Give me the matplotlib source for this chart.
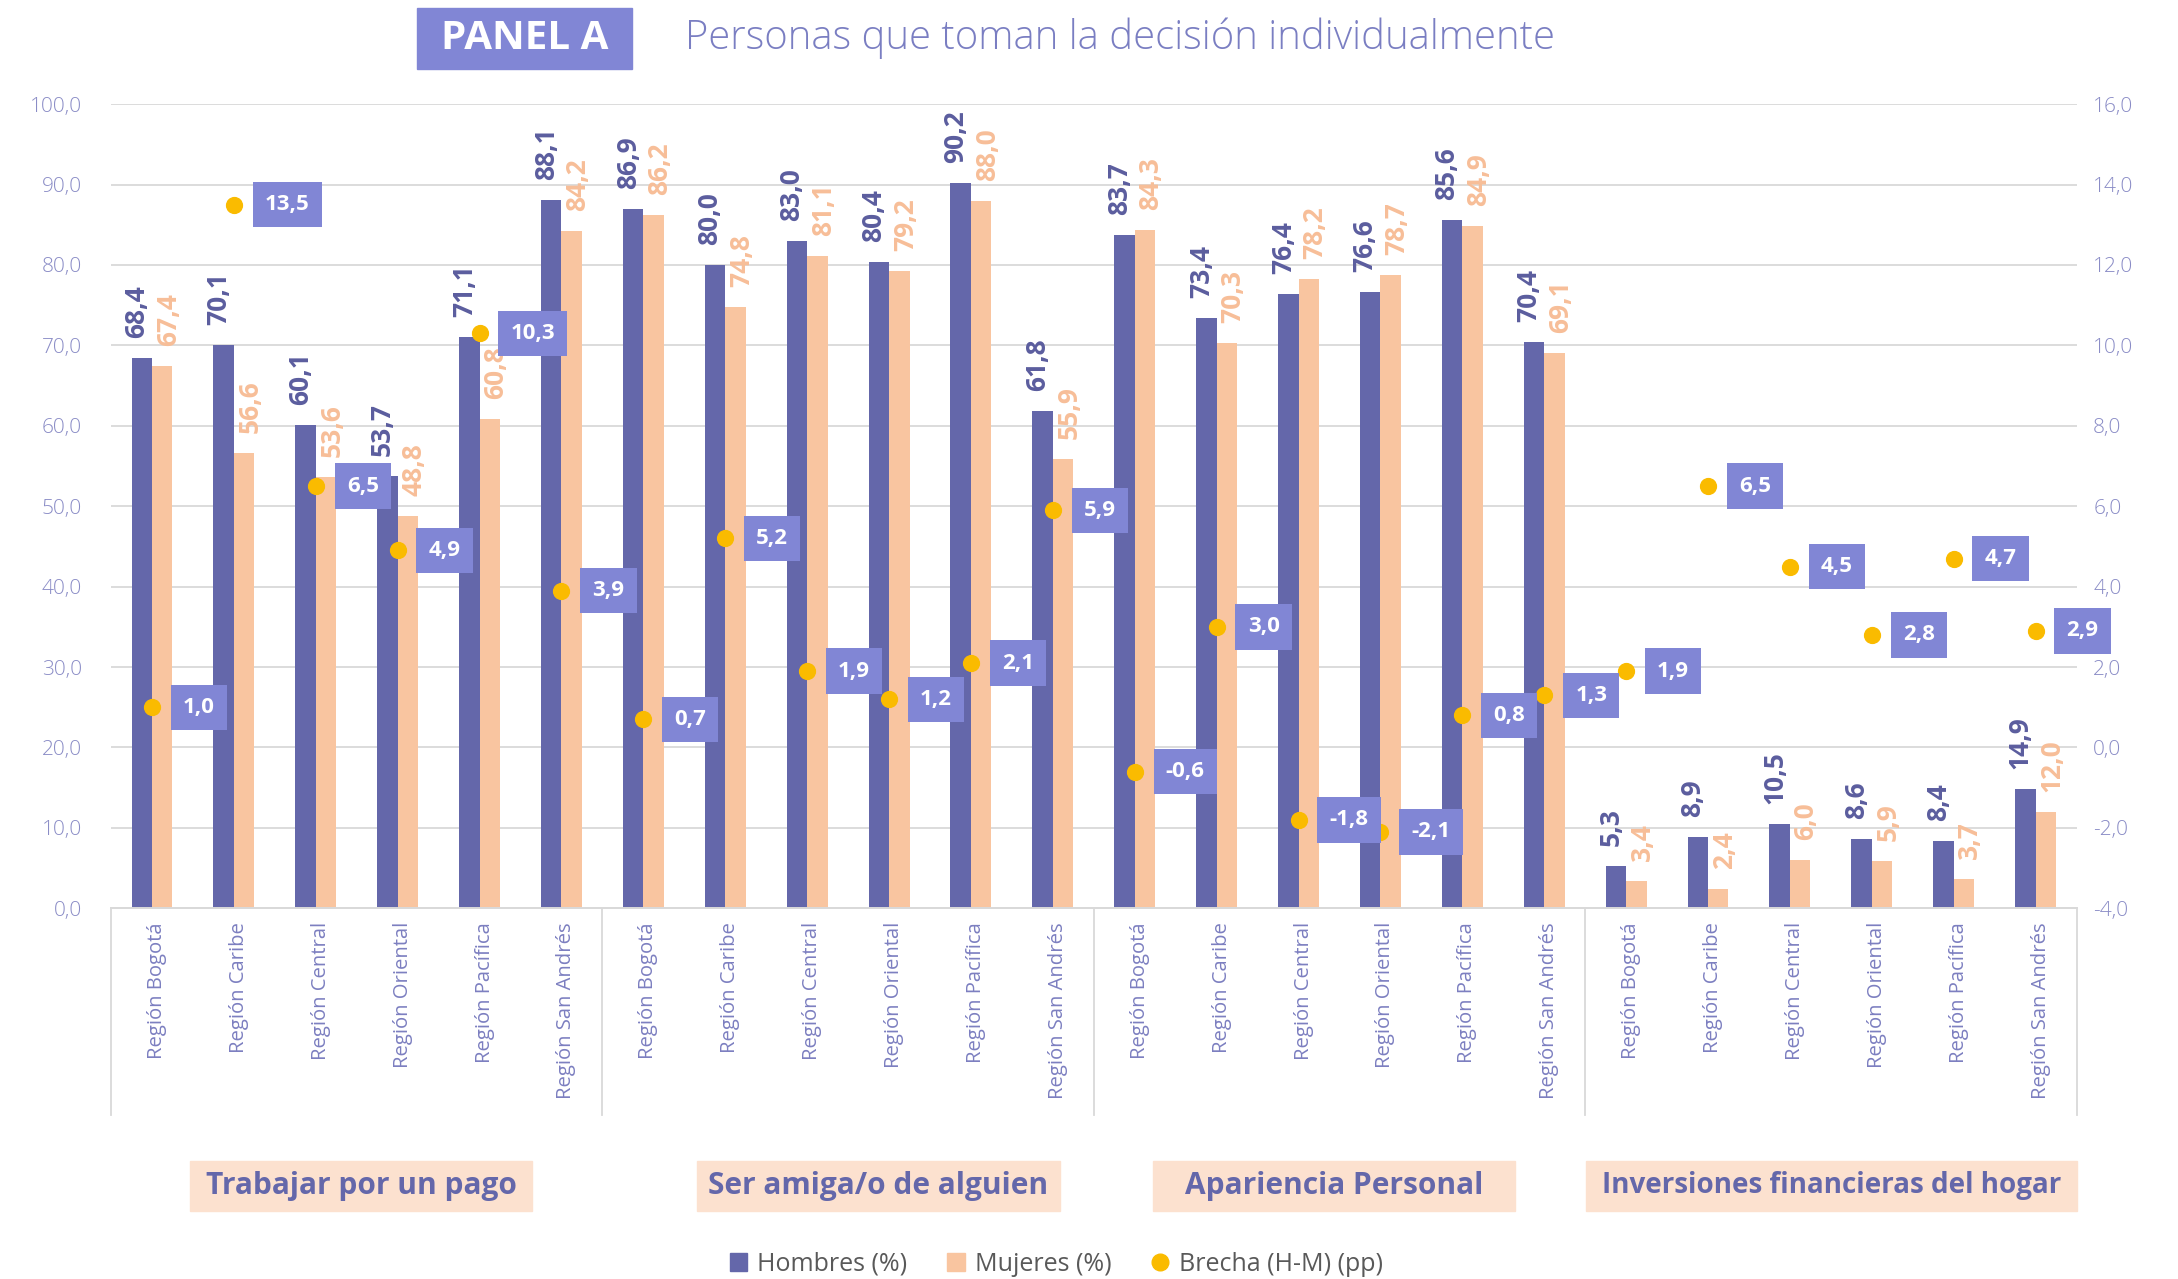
import matplotlib
matplotlib.use('Agg')
import matplotlib.pyplot as plt
from matplotlib.path import Path
from matplotlib.patches import Rectangle, Patch
from matplotlib.lines import Line2D
from matplotlib.ticker import FuncFormatter, MultipleLocator
import matplotlib.transforms as mtransforms

# ---------------- data ----------------
regions = ["Región Bogotá", "Región Caribe", "Región Central",
           "Región Oriental", "Región Pacífica", "Región San Andrés"]
groups = ["Trabajar por un pago", "Ser amiga/o de alguien",
          "Apariencia Personal", "Inversiones financieras del hogar"]
hombres = [68.4, 70.1, 60.1, 53.7, 71.1, 88.1,
           86.9, 80.0, 83.0, 80.4, 90.2, 61.8,
           83.7, 73.4, 76.4, 76.6, 85.6, 70.4,
           5.3, 8.9, 10.5, 8.6, 8.4, 14.9]
mujeres = [67.4, 56.6, 53.6, 48.8, 60.8, 84.2,
           86.2, 74.8, 81.1, 79.2, 88.0, 55.9,
           84.3, 70.3, 78.2, 78.7, 84.9, 69.1,
           3.4, 2.4, 6.0, 5.9, 3.7, 12.0]
brecha = [1.0, 13.5, 6.5, 4.9, 10.3, 3.9,
          0.7, 5.2, 1.9, 1.2, 2.1, 5.9,
          -0.6, 3.0, -1.8, -2.1, 0.8, 1.3,
          1.9, 6.5, 4.5, 2.8, 4.7, 2.9]
categories = regions * len(groups)
series_names = ["Hombres (%)", "Mujeres (%)", "Brecha (H-M) (pp)"]
title_tag = "PANEL A"
title_text = "Personas que toman la decisión individualmente"

# ---------------- style ----------------
C_H = '#6467AA'
C_M = '#F9C5A0'
C_B = '#FABB00'
C_BOX = '#8186D5'
C_TICK = '#8A8CC6'
C_CAT = '#7C7FC0'
C_HLAB = '#5B5D9E'
C_MLAB = '#F7BE98'
C_GRID = '#D9D9D9'
C_GBOX = '#FCE1CF'

def fmt(v):
    return f"{v:.1f}".replace('.', ',')

def rect_box(x0, y0, width, height, mutation_size):
    px = 0.55 * mutation_size
    py = 0.55 * mutation_size
    x1, y1 = x0 + width, y0 + height
    verts = [(x0 - px, y0 - py), (x1 + px, y0 - py), (x1 + px, y1 + py),
             (x0 - px, y1 + py), (x0 - px, y0 - py)]
    codes = [Path.MOVETO, Path.LINETO, Path.LINETO, Path.LINETO, Path.CLOSEPOLY]
    return Path(verts, codes)

fig = plt.figure(figsize=(21.78, 12.79), dpi=100)
ax = fig.add_axes([0.0510, 0.2898, 0.9024, 0.6288])
ax2 = ax.twinx()

n = len(categories)
x = list(range(n))
w = 0.25
xh = [i - w / 2 for i in x]
xm = [i + w / 2 for i in x]

ax.bar(xh, hombres, width=w, color=C_H, zorder=2)
ax.bar(xm, mujeres, width=w, color=C_M, zorder=2)

for xi, v in zip(xh, hombres):
    ax.annotate(fmt(v), (xi, v), xytext=(-5, 20), textcoords='offset pixels',
                rotation=90, ha='center', va='bottom', fontsize=19,
                fontweight='bold', color=C_HLAB, family='Open Sans', zorder=3)
for xi, v in zip(xm, mujeres):
    ax.annotate(fmt(v), (xi, v), xytext=(6, 20), textcoords='offset pixels',
                rotation=90, ha='center', va='bottom', fontsize=19,
                fontweight='bold', color=C_MLAB, family='Open Sans', zorder=3)

ax.set_xlim(-0.5, n - 0.5)
ax.set_ylim(0, 100)
ax2.set_ylim(-4, 16)
ax.yaxis.set_major_locator(MultipleLocator(10))
ax2.yaxis.set_major_locator(MultipleLocator(2))
ax.yaxis.set_major_formatter(FuncFormatter(lambda v, p: fmt(v)))
ax2.yaxis.set_major_formatter(FuncFormatter(lambda v, p: fmt(v)))
ax.yaxis.grid(True, color=C_GRID, lw=1.3)
ax.set_axisbelow(True)

for a in (ax, ax2):
    for s in ('top', 'left', 'right'):
        a.spines[s].set_visible(False)
    a.spines['bottom'].set_color(C_GRID)
    a.spines['bottom'].set_linewidth(1.3)
    a.tick_params(axis='y', length=0, labelsize=15, labelcolor=C_TICK)
ax.tick_params(axis='y', pad=21)
ax2.tick_params(axis='y', pad=12)
for lab in ax.get_yticklabels() + ax2.get_yticklabels():
    lab.set_family('Open Sans')
    lab.set_fontweight('light')

ax.set_xticks(x)
ax.set_xticklabels(categories, rotation=90, fontsize=14.6, color=C_CAT,
                   family='Open Sans')
ax.tick_params(axis='x', length=0, pad=10)
shift = mtransforms.ScaledTranslation(5 / 100, 0, fig.dpi_scale_trans)
for lab in ax.get_xticklabels():
    lab.set_transform(lab.get_transform() + shift)

# group separators below the axis
trans = mtransforms.blended_transform_factory(ax.transData, ax.transAxes)
for sx in [-0.5, 5.5, 11.5, 17.5, 23.5]:
    ax.plot([sx, sx], [0, -0.2575], transform=trans, color=C_GRID, lw=1.3,
            clip_on=False, zorder=1)

# brecha dots and labels
ax2.scatter(x, brecha, s=130, color=C_B, zorder=5)
for xi, b in zip(x, brecha):
    ax2.annotate(fmt(b), (xi, b), xytext=(31, 0), textcoords='offset pixels',
                 ha='left', va='center', fontsize=16, fontweight='bold',
                 color='white', family='Open Sans', zorder=6,
                 bbox=dict(boxstyle=rect_box, fc=C_BOX, ec='none'))

# title
fig.patches.append(Rectangle((417 / 2178, 1 - 69 / 1279), 215 / 2178, 61 / 1279,
                             transform=fig.transFigure, color=C_BOX, zorder=1))
fig.text(524.5 / 2178, 1 - 38.5 / 1279, title_tag, ha='center', va='center',
         fontsize=29, fontweight='bold', color='white', family='Open Sans')
fig.text(685 / 2178, 1 - 38.5 / 1279, title_text, ha='left', va='center',
         fontsize=28.8, fontweight='light', color='#7A7EC2', family='Open Sans')

# group label boxes
gboxes = [(190, 532), (697, 1060), (1153, 1515), (1586, 2077)]
gsizes = [21.5, 21.5, 21.5, 20]
gy0, gy1 = 1161, 1211
for (bx0, bx1), g, fs in zip(gboxes, groups, gsizes):
    fig.patches.append(Rectangle((bx0 / 2178, 1 - gy1 / 1279), (bx1 - bx0) / 2178,
                                 (gy1 - gy0) / 1279, transform=fig.transFigure,
                                 color=C_GBOX, zorder=1))
    fig.text((bx0 + bx1) / 2 / 2178, 1 - (gy0 + gy1) / 2 / 1279, g,
             ha='center', va='center', fontsize=fs, fontweight='bold',
             color=C_H, family='Open Sans')

# legend
handles = [Patch(color=C_H), Patch(color=C_M),
           Line2D([], [], marker='o', ls='none', color=C_B, markersize=12)]
fig.legend(handles, series_names, loc='lower center', bbox_to_anchor=(0.485, -0.016),
           ncol=3, frameon=False, labelcolor='#595959',
           handlelength=0.7, handleheight=0.7, columnspacing=1.6,
           handletextpad=0.4, prop={'family': 'Open Sans', 'size': 18})

fig.savefig('out.png', dpi=100, facecolor='white')
